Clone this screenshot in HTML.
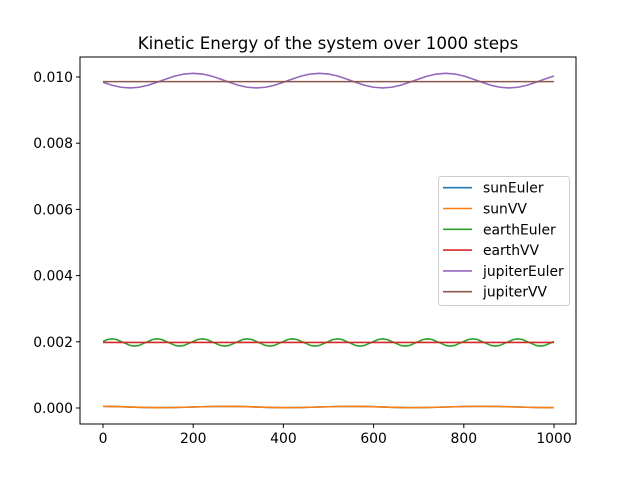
<!DOCTYPE html>
<html><head><meta charset="utf-8"><style>
html,body{margin:0;padding:0;background:#fff;}
svg{display:block;font-family:"DejaVu Sans","Liberation Sans",sans-serif;}
</style></head><body>
<svg id="c" width="640" height="478" viewBox="0 0 640 478"></svg>
<script>
const xTicks=[0,200,400,600,800,1000];
const yTicks=[0.000,0.002,0.004,0.006,0.008,0.010];
const yTickLabels=["0.000","0.002","0.004","0.006","0.008","0.010"];
const seriesNames=["sunEuler","sunVV","earthEuler","earthVV","jupiterEuler","jupiterVV"];
const seriesColors=["#1f77b4","#ff7f0e","#2ca02c","#d62728","#9467bd","#8c564b"];
const sunSteps=[0,40,80,120,160,200,240,280,320,360,400,440,480,520,560,600,640,680,720,760,800,840,880,920,960,1000];
const sunEuler=[5,4,2,1,1.5,3,4.5,5,4,2,1,1.5,3,4.5,5,4,2,1,1.5,3,4.5,5,4.5,3,1.5,1].map(v=>v*1e-5);
const sunVV=[5,4,2,1,1.5,3,4.5,5,4,2,1,1.5,3,4.5,5,4,2,1,1.5,3,4.5,5,4.5,3,1.5,1].map(v=>v*1e-5);
const earthSteps=[];for(let i=0;i<=100;i++)earthSteps.push(i*10);
const earthCycle=[0.00201,0.00207,0.00209,0.00207,0.00201,0.00195,0.00189,0.00187,0.00189,0.00195];
const earthEuler=[];for(let i=0;i<=100;i++)earthEuler.push(earthCycle[i%10]);
const earthVVSteps=[0,1000];
const earthVV=[0.00198,0.00198];
const jupSteps=[];for(let i=0;i<=50;i++)jupSteps.push(i*20);
const jupiterEuler=[0.00984,0.00975,0.00969,0.00967,0.00969,0.00975,0.00984,0.00994,0.01003,0.01009,0.01011,0.01009,0.01003,0.00994,0.00984,0.00975,0.00969,0.00967,0.00969,0.00975,0.00984,0.00994,0.01003,0.01009,0.01011,0.01009,0.01003,0.00994,0.00984,0.00975,0.00969,0.00967,0.00969,0.00975,0.00984,0.00994,0.01003,0.01009,0.01011,0.01009,0.01003,0.00994,0.00984,0.00975,0.00969,0.00967,0.00969,0.00975,0.00984,0.00994,0.01003];
const jupiterVVSteps=[0,1000];
const jupiterVV=[0.00986,0.00986];

const L=80,R=576,T=57,B=424;
const X=v=>103+(v/1000)*451;
const Y=v=>408-v*33100;
const svg=document.getElementById('c');
const NS="http://www.w3.org/2000/svg";
function mk(tag,attrs,parent){const e=document.createElementNS(NS,tag);for(const k in attrs)e.setAttribute(k,attrs[k]);(parent||svg).appendChild(e);return e;}

const title=mk('text',{x:328,y:49,'text-anchor':'middle','font-size':16.7,fill:'#000'});
title.textContent="Kinetic Energy of the system over 1000 steps";



function line(xs,ys,color,name){
  const d=xs.map((x,i)=>(i?'L':'M')+X(x).toFixed(2)+' '+Y(ys[i]).toFixed(2)).join(' ');
  const p=mk('path',{d:d,fill:'none',stroke:color,'stroke-width':1.6,'stroke-linejoin':'round'});
  
  
}
line(sunSteps,sunEuler,seriesColors[0],'sun-euler');
line(sunSteps,sunVV,seriesColors[1],'sun-vv');
line(earthSteps,earthEuler,seriesColors[2],'earth-euler');
line(earthVVSteps,earthVV,seriesColors[3],'earth-vv');
line(jupSteps,jupiterEuler,seriesColors[4],'jupiter-euler');
line(jupiterVVSteps,jupiterVV,seriesColors[5],'jupiter-vv');

const frame=mk('rect',{x:L,y:T,width:R-L,height:B-T,fill:'none',stroke:'#000','stroke-width':1});



xTicks.forEach(t=>{
  const tk=mk('line',{x1:X(t),x2:X(t),y1:B,y2:B+4,stroke:'#000'});
  
  
  const tx=mk('text',{x:X(t),y:B+19,'text-anchor':'middle','font-size':13.9});
  tx.textContent=t;
  
  
});
yTicks.forEach((t,i)=>{
  const tk=mk('line',{x1:L-4,x2:L,y1:Y(t),y2:Y(t),stroke:'#000'});
  
  
  const tx=mk('text',{x:L-7,y:Y(t)+5,'text-anchor':'end','font-size':13.9});
  tx.textContent=yTickLabels[i];
  
  
});

const lg=mk('g',{});


mk('rect',{x:438.5,y:176.5,width:131,height:129,rx:3,fill:'#fff','fill-opacity':0.8,stroke:'#ccc'},lg);
seriesNames.forEach((n,i)=>{
  const y=187.7+i*20.8;
  const g=mk('g',{},lg);
  
  
  mk('line',{x1:443,x2:472,y1:y,y2:y,stroke:seriesColors[i],'stroke-width':1.6},g);
  const t=mk('text',{x:483,y:y+5,'font-size':13.9},g);
  t.textContent=n;
});
</script>
</body></html>
